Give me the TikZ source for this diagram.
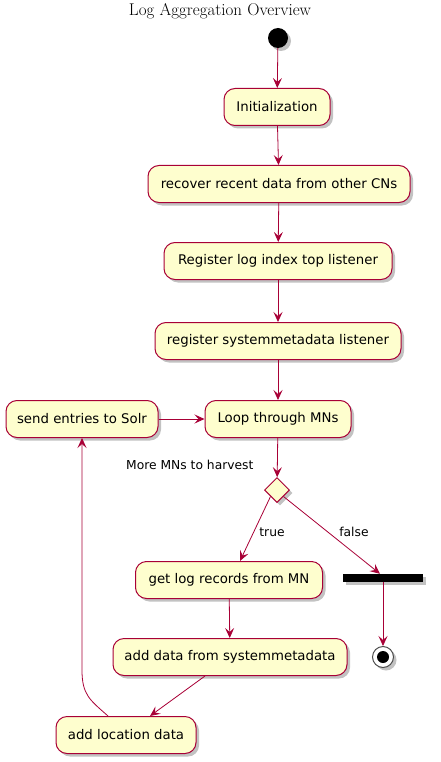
\documentclass[tikz,border=0pt]{standalone}
\usepackage{fontspec}
\newfontfamily\uifont{DejaVu Sans}
\usetikzlibrary{arrows.meta,shadows,shapes.geometric}
\definecolor{boxfill}{HTML}{FEFECE}
\definecolor{boxline}{HTML}{A80036}
\tikzset{
  act/.style={draw=boxline, fill=boxfill, line width=1pt, rounded corners=11pt,
    minimum height=37pt, inner xsep=4pt, font=\uifont\fontsize{13.3}{15}\selectfont,
    drop shadow={shadow xshift=3pt, shadow yshift=-3pt, fill=black!40, opacity=.6}},
  flow/.style={draw=boxline, line width=0.8pt, -{Stealth[length=10pt,width=9pt,inset=4pt]}},
  lbl/.style={font=\uifont\fontsize{12.3}{14}\selectfont, text=black},
}
\begin{document}
\begin{tikzpicture}[x=1pt,y=-1pt]
\useasboundingbox (0,0) rectangle (441,762);
\node[font=\fontsize{17}{19}\selectfont] (title) at (220,11) {Log Aggregation Overview};
\node[circle, fill=black, minimum size=20pt, inner sep=0pt,
  drop shadow={shadow xshift=3pt, shadow yshift=-3pt, fill=black!40, opacity=.6}] (start) at (278,38) {};
\node[act, minimum width=106pt] (init) at (277,107) {Initialization};
\node[act, minimum width=262pt] (recover) at (279,184) {recover recent data from other CNs};
\node[act, minimum width=228pt] (reglog) at (278,261) {Register log index top listener};
\node[act, minimum width=246pt] (regsys) at (278,341) {register systemmetadata listener};
\node[act, minimum width=146pt] (loop) at (278,419) {Loop through MNs};
\node[act, minimum width=152pt] (send) at (82,419) {send entries to Solr};
\node[diamond, draw=boxline, fill=boxfill, line width=1pt, minimum size=25pt, inner sep=0pt,
  drop shadow={shadow xshift=3pt, shadow yshift=-3pt, fill=black!40, opacity=.6}] (dec) at (277,490) {};
\node[lbl, anchor=east] (more) at (257,465) {More MNs to harvest};
\node[act, minimum width=187pt] (getlog) at (229,580) {get log records from MN};
\node[fill=black, minimum width=80pt, minimum height=8pt, inner sep=0pt,
  drop shadow={shadow xshift=3pt, shadow yshift=-3pt, fill=black!40, opacity=.6}] (bar) at (383,578) {};
\node[act, minimum width=234pt] (adddata) at (230,657) {add data from systemmetadata};
\node[act, minimum width=140pt] (addloc) at (126,735) {add location data};
\node[circle, draw=black!70, fill=white, line width=1pt, minimum size=21pt, inner sep=0pt,
  drop shadow={shadow xshift=3pt, shadow yshift=-3pt, fill=black!40, opacity=.6}] (stop) at (383,657) {};
\node[circle, fill=black, minimum size=12pt, inner sep=0pt] (stopin) at (stop) {};
\coordinate (locout) at ([xshift=-18pt]addloc.north);
\coordinate (sendin) at (send.south);

\draw[flow] (start) -- (init);
\draw[flow] (init) -- (recover);
\draw[flow] (recover) -- (reglog);
\draw[flow] (reglog) -- (regsys);
\draw[flow] (regsys) -- (loop);
\draw[flow] (loop) -- (dec);
\draw[flow] (send) -- (loop);
\draw[flow] (dec.south west) -- ([xshift=11pt]getlog.north);
\draw[flow] (dec.south east) -- ([xshift=-3pt]bar.north);
\node[lbl] (ltrue) at (272,532) {true};
\node[lbl] (lfalse) at (354,532) {false};
\draw[flow] (bar) -- (stop);
\draw[flow] (getlog) -- (adddata);
\draw[flow] ([xshift=-25pt]adddata.south) -- ([xshift=24pt]addloc.north);
\draw[flow] (locout) .. controls (90,700) and (82,695) .. (82,670) -- (sendin);
\end{tikzpicture}
\end{document}
